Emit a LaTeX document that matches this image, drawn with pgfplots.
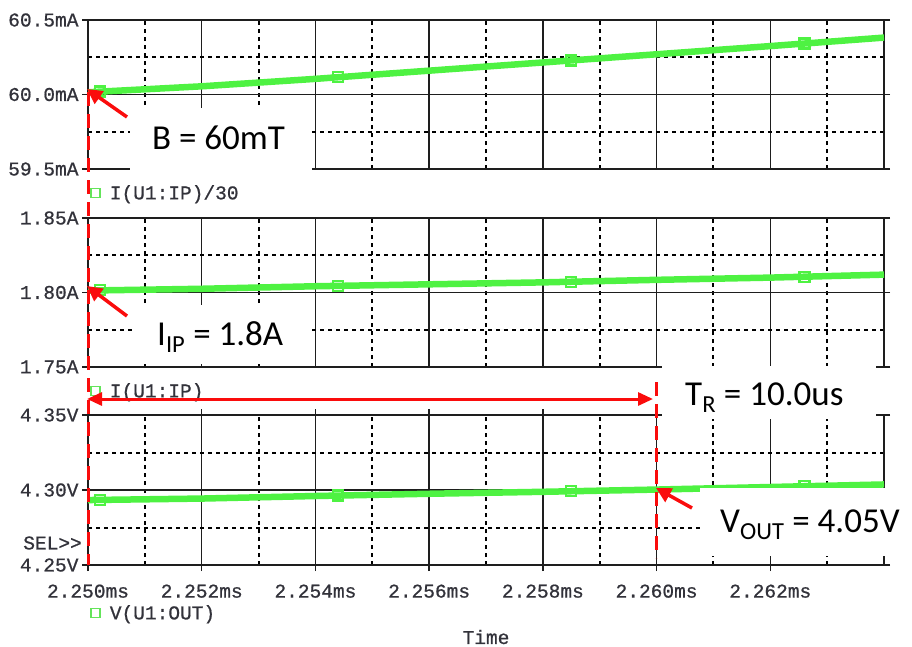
\documentclass[border=0pt]{standalone}
\usepackage{pgfplots}
\pgfplotsset{compat=1.18}
\usepackage{fontspec}
\setmainfont{Carlito}
\newfontfamily\monof[FakeBold=0.8]{Liberation Mono}
\newfontfamily\calf{Carlito}
\usetikzlibrary{arrows.meta}
\definecolor{pgreen}{RGB}{78,242,66}
\definecolor{lgreen}{RGB}{100,228,90}
\definecolor{gridc}{RGB}{30,30,30}
\definecolor{labc}{RGB}{50,50,58}
\definecolor{ared}{RGB}{250,12,12}
\newcommand{\monosz}{\monof\fontsize{19.5}{22}\selectfont}
\pgfplotsset{
 psp/.style={
  scale only axis, width=796pt,
  xmin=0, xmax=14,
  xtick={0,2,4,6,8,10,12}, minor xtick={1,3,5,7,9,11,13},
  grid=both,
  major grid style={draw=gridc, line width=1.5pt},
  minor grid style={draw=black, line width=2pt, dash pattern=on 4pt off 4pt},
  axis line style={draw=gridc, line width=1.7pt},
  tick align=center, major tick length=12pt, minor tick length=0pt,
  every tick/.style={draw=gridc, line width=1.4pt},
  xticklabels={},
  yticklabel style={font=\monosz, text=labc},
  legend style={draw=none, fill=none, at={(axis description cs:0,0)}, anchor=north west,
    font=\monosz, text=labc, yshift=-12pt, xshift=-1pt},
  legend image code/.code={\draw[lgreen, line width=1.3pt] (0pt,-4.5pt) rectangle (9pt,4.5pt); \path[draw=none] (0pt,0pt) -- (17pt,0pt);},
 },
 top/.style={xtick style={draw=none}},
}
\begin{document}
\begin{tikzpicture}
\path[use as bounding box] (0pt,0pt) rectangle (912pt,-646pt);
% panel 1
\begin{axis}[psp, top, at={(88pt,-169pt)}, anchor=south west, height=149pt,
  ymin=59.5, ymax=60.5, ytick={59.5,60,60.5}, minor ytick={59.75,60.25},
  yticklabels={59.5mA,60.0mA,60.5mA}]
\addplot[pgreen, line width=6.5pt, forget plot] coordinates {
 (0,60.015) (2,60.055) (4,60.105) (6,60.16) (8,60.215) (10,60.27) (12,60.325) (14,60.382)};
\addplot[only marks, mark=square, mark size=5pt, mark options={draw=pgreen, line width=2.2pt, fill=none}] coordinates {
 (0.21,60.02) (4.39,60.115) (8.49,60.228) (12.6,60.342)};
\addlegendentry{I(U1:IP)/30}
\end{axis}
% panel 2
\begin{axis}[psp, top, at={(88pt,-367pt)}, anchor=south west, height=149pt,
  ymin=1.75, ymax=1.85, ytick={1.75,1.80,1.85}, minor ytick={1.775,1.825},
  yticklabels={1.75A,1.80A,1.85A}]
\addplot[pgreen, line width=6.5pt, forget plot] coordinates {
 (0,1.8013) (2,1.8025) (4,1.8042) (6,1.8055) (8,1.8068) (10,1.8085) (12,1.8100) (14,1.8120)};
\addplot[only marks, mark=square, mark size=5pt, mark options={draw=pgreen, line width=2.2pt, fill=none}] coordinates {
 (0.21,1.8015) (4.39,1.8045) (8.49,1.8072) (12.6,1.8105)};
\addlegendentry{I(U1:IP)}
\end{axis}
% panel 3
\begin{axis}[psp, at={(88pt,-565pt)}, anchor=south west, height=150pt,
  ymin=4.25, ymax=4.35, ytick={4.25,4.30,4.35}, minor ytick={4.275,4.325},
  yticklabels={4.25V,4.30V,4.35V},
  xticklabels={2.250ms,2.252ms,2.254ms,2.256ms,2.258ms,2.260ms,2.262ms},
  xticklabel style={font=\monosz, text=labc, yshift=-10pt},
  legend style={yshift=-24pt}]
\addplot[pgreen, line width=6.5pt, forget plot] coordinates {
 (0,4.2933) (2,4.2943) (4,4.2960) (6,4.2975) (8,4.2988) (10,4.3003) (12,4.3020) (14,4.3037)};
\addplot[only marks, mark=square, mark size=5pt, mark options={draw=pgreen, line width=2.2pt, fill=none}] coordinates {
 (0.21,4.2935) (4.39,4.2963) (8.49,4.2991) (12.6,4.3025)};
\addlegendentry{V(U1:OUT)}
\end{axis}
% white annotation boxes
\fill[white] (130pt,-108pt) rectangle (312pt,-172pt);
\fill[white] (135pt,-305pt) rectangle (312pt,-364pt);
\fill[white] (662pt,-366pt) rectangle (876pt,-419pt);
\fill[white] (700pt,-488pt) rectangle (912pt,-556pt);
% red markup
\draw[ared, line width=3pt, dash pattern=on 14pt off 8pt] (88pt,-92pt) -- (88pt,-565pt);
\draw[ared, line width=3pt, dash pattern=on 14pt off 8pt] (656pt,-382pt) -- (656pt,-558pt);
\draw[ared, line width=3pt, {Triangle[length=15pt,width=13pt]}-{Triangle[length=15pt,width=13pt]}] (87pt,-399pt) -- (653pt,-399pt);
\draw[ared, line width=3.5pt, -{Triangle[length=15pt,width=15pt]}] (127pt,-117pt) -- (87pt,-89pt);
\draw[ared, line width=3.5pt, -{Triangle[length=15pt,width=15pt]}] (127pt,-316pt) -- (87pt,-286pt);
\draw[ared, line width=3.5pt, -{Triangle[length=15pt,width=15pt]}] (692pt,-508pt) -- (656pt,-488pt);
% annotation text
\begin{scope}[every node/.style={font=\calf\fontsize{35}{40}\selectfont, inner sep=0pt, anchor=base west}]
\node at (152pt,-149pt) {B = 60mT};
\node at (157pt,-345pt) {I\textsubscript{IP} = 1.8A};
\node at (685pt,-405pt) {T\textsubscript{R} = 10.0us};
\node at (720pt,-532pt) {V\textsubscript{OUT} = 4.05V};
\end{scope}
\node[font=\monosz, text=labc, anchor=east, inner sep=0pt] at (82pt,-543pt) {SEL>>};
\node[font=\monosz, text=labc, inner sep=0pt] at (486pt,-637pt) {Time};
\end{tikzpicture}
\end{document}
